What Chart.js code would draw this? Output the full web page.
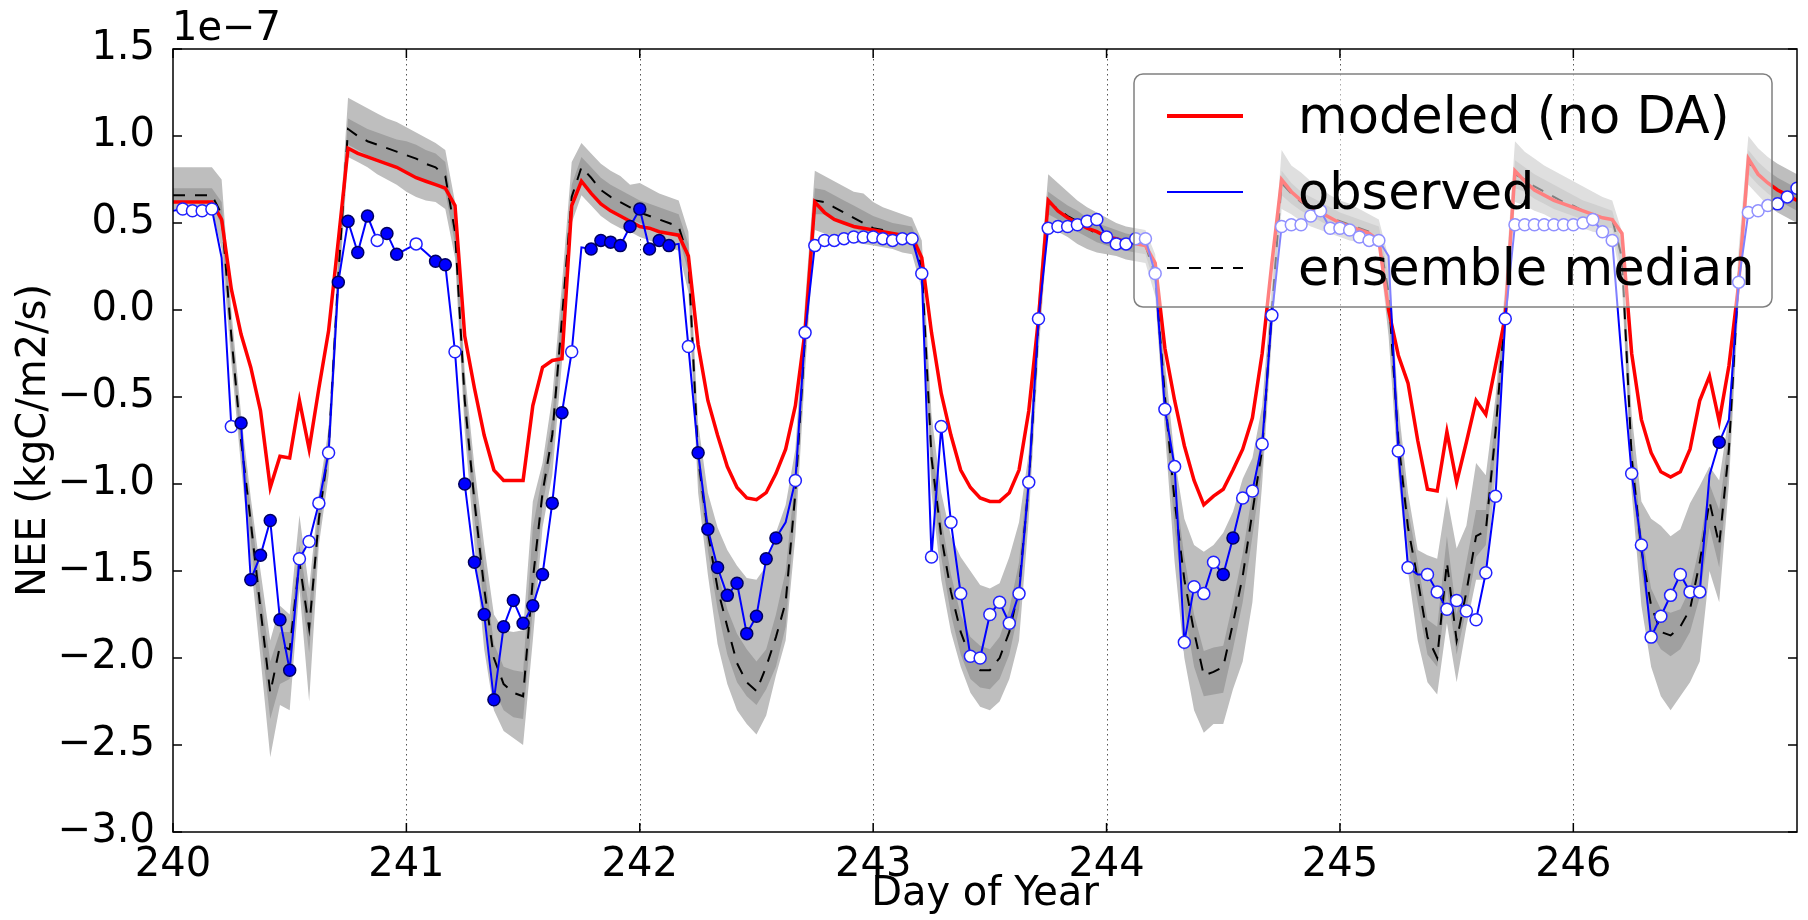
<!DOCTYPE html>
<html>
<head>
<meta charset="utf-8">
<script src="https://cdn.jsdelivr.net/npm/chart.js@4.4.1/dist/chart.umd.min.js"></script>
<style>
  html, body { margin: 0; padding: 0; background: #fff; }
</style>
</head>
<body>
<canvas id="neeChart" width="1808" height="920"></canvas>
<script>
// hourly values, day 240.0 to 246.958, in units of 1e-7 kgC/m2/s
const xTicks = [240, 241, 242, 243, 244, 245, 246];
const yTicks = [-3.0, -2.5, -2.0, -1.5, -1.0, -0.5, 0.0, 0.5, 1.0, 1.5];

const modeled = [
  0.62, 0.62, 0.62, 0.62, 0.62, 0.52, 0.12, -0.14, -0.33, -0.58, -1.02, -0.84, -0.85, -0.52, -0.80, -0.45, -0.12, 0.40, 0.93, 0.90, 0.88, 0.86, 0.84, 0.82,
  0.79, 0.76, 0.74, 0.72, 0.70, 0.60, -0.15, -0.45, -0.72, -0.92, -0.98, -0.98, -0.98, -0.55, -0.33, -0.29, -0.28, 0.60, 0.74, 0.67, 0.61, 0.57, 0.54, 0.51,
  0.48, 0.47, 0.45, 0.44, 0.43, 0.31, -0.20, -0.52, -0.72, -0.90, -1.02, -1.08, -1.09, -1.05, -0.94, -0.80, -0.55, -0.12, 0.62, 0.56, 0.52, 0.50, 0.48, 0.47,
  0.46, 0.45, 0.44, 0.43, 0.42, 0.30, -0.13, -0.48, -0.72, -0.92, -1.02, -1.08, -1.10, -1.10, -1.05, -0.92, -0.58, -0.05, 0.63, 0.57, 0.53, 0.50, 0.47, 0.45,
  0.42, 0.41, 0.39, 0.38, 0.37, 0.27, -0.22, -0.52, -0.78, -0.98, -1.12, -1.07, -1.03, -0.92, -0.80, -0.62, -0.25, 0.27, 0.75, 0.68, 0.63, 0.59, 0.56, 0.53,
  0.50, 0.48, 0.46, 0.44, 0.40, 0.00, -0.26, -0.42, -0.75, -1.03, -1.04, -0.70, -0.99, -0.76, -0.52, -0.60, -0.32, -0.04, 0.80, 0.74, 0.69, 0.66, 0.63, 0.61,
  0.59, 0.57, 0.55, 0.53, 0.52, 0.44, -0.25, -0.63, -0.82, -0.93, -0.96, -0.93, -0.80, -0.52, -0.38, -0.64, -0.32, 0.15, 0.87, 0.78, 0.73, 0.69, 0.66, 0.63
];

const median = [
  0.66, 0.66, 0.66, 0.66, 0.66, 0.55, -0.15, -0.75, -1.22, -1.72, -2.20, -1.93, -1.95, -1.45, -1.83, -1.20, -0.80, 0.20, 1.04, 1.00, 0.97, 0.95, 0.93, 0.91,
  0.89, 0.87, 0.84, 0.82, 0.77, 0.45, -0.52, -1.10, -1.60, -2.00, -2.15, -2.20, -2.22, -1.55, -1.05, -0.72, -0.05, 0.65, 0.82, 0.76, 0.69, 0.65, 0.62, 0.59,
  0.56, 0.54, 0.52, 0.50, 0.48, 0.30, -0.85, -1.28, -1.60, -1.82, -2.03, -2.14, -2.19, -2.05, -1.88, -1.68, -1.05, -0.15, 0.63, 0.62, 0.59, 0.56, 0.53, 0.50,
  0.47, 0.46, 0.44, 0.43, 0.42, 0.25, -0.85, -1.30, -1.62, -1.85, -2.00, -2.07, -2.07, -2.00, -1.85, -1.60, -1.00, -0.08, 0.62, 0.58, 0.54, 0.51, 0.47, 0.44,
  0.42, 0.40, 0.39, 0.38, 0.37, 0.20, -0.50, -1.10, -1.55, -1.85, -2.10, -2.08, -2.05, -1.80, -1.53, -1.16, -0.80, 0.00, 0.73, 0.67, 0.62, 0.59, 0.56, 0.53,
  0.51, 0.49, 0.47, 0.45, 0.43, 0.10, -0.75, -1.25, -1.55, -1.88, -2.00, -1.45, -1.90, -1.62, -1.30, -1.27, -0.70, 0.00, 0.78, 0.75, 0.71, 0.68, 0.65, 0.62,
  0.60, 0.57, 0.55, 0.53, 0.52, 0.30, -0.85, -1.38, -1.70, -1.85, -1.87, -1.82, -1.72, -1.45, -1.10, -1.35, -0.80, 0.20, 0.85, 0.78, 0.73, 0.69, 0.66, 0.63
];

// inner band (darker) and outer band (lighter) of the ensemble
const innerHi = [
  0.70, 0.70, 0.70, 0.70, 0.70, 0.62, -0.08, -0.68, -1.15, -1.62, -2.02, -1.85, -1.85, -1.35, -1.72, -1.12, -0.72, 0.28, 1.10, 1.07, 1.04, 1.02, 1.00, 0.98,
  0.97, 0.95, 0.92, 0.90, 0.85, 0.52, -0.42, -1.00, -1.48, -1.92, -2.05, -2.07, -2.08, -1.25, -0.95, -0.62, 0.05, 0.72, 0.88, 0.82, 0.76, 0.72, 0.69, 0.66,
  0.63, 0.61, 0.59, 0.57, 0.55, 0.38, -0.78, -1.20, -1.50, -1.72, -1.86, -1.95, -2.02, -1.95, -1.75, -1.50, -0.95, -0.05, 0.70, 0.69, 0.66, 0.63, 0.60, 0.57,
  0.54, 0.52, 0.50, 0.49, 0.48, 0.32, -0.75, -1.20, -1.52, -1.75, -1.88, -1.93, -1.95, -1.88, -1.72, -1.45, -0.90, 0.00, 0.68, 0.64, 0.60, 0.57, 0.53, 0.50,
  0.48, 0.46, 0.44, 0.43, 0.42, 0.26, -0.40, -0.98, -1.42, -1.75, -1.96, -1.94, -1.93, -1.68, -1.40, -1.05, -0.70, 0.07, 0.80, 0.73, 0.68, 0.65, 0.62, 0.59,
  0.56, 0.54, 0.52, 0.50, 0.48, 0.20, -0.65, -1.15, -1.45, -1.78, -1.82, -1.30, -1.75, -1.45, -1.15, -1.15, -0.60, 0.08, 0.86, 0.82, 0.78, 0.75, 0.72, 0.69,
  0.66, 0.63, 0.61, 0.59, 0.57, 0.38, -0.75, -1.28, -1.60, -1.72, -1.74, -1.72, -1.60, -1.35, -1.00, -1.15, -0.70, 0.28, 0.92, 0.85, 0.80, 0.76, 0.73, 0.70
];

const innerLo = [
  0.62, 0.62, 0.62, 0.62, 0.62, 0.48, -0.22, -0.82, -1.32, -1.85, -2.35, -2.15, -2.12, -1.52, -1.97, -1.28, -0.85, 0.12, 0.95, 0.92, 0.89, 0.87, 0.85, 0.82,
  0.78, 0.76, 0.74, 0.72, 0.68, 0.38, -0.62, -1.20, -1.72, -2.18, -2.30, -2.34, -2.35, -1.72, -1.12, -0.82, -0.15, 0.58, 0.74, 0.68, 0.62, 0.58, 0.55, 0.52,
  0.50, 0.48, 0.46, 0.44, 0.42, 0.22, -0.95, -1.38, -1.72, -1.98, -2.14, -2.22, -2.27, -2.18, -2.05, -1.82, -1.15, -0.25, 0.55, 0.55, 0.52, 0.50, 0.47, 0.45,
  0.43, 0.42, 0.40, 0.39, 0.38, 0.20, -0.95, -1.42, -1.75, -1.98, -2.12, -2.17, -2.18, -2.12, -1.98, -1.72, -1.10, -0.15, 0.55, 0.52, 0.48, 0.45, 0.42, 0.39,
  0.37, 0.35, 0.34, 0.33, 0.32, 0.14, -0.60, -1.25, -1.72, -2.05, -2.22, -2.21, -2.20, -1.95, -1.68, -1.30, -0.90, -0.07, 0.66, 0.61, 0.57, 0.54, 0.51, 0.48,
  0.46, 0.44, 0.42, 0.40, 0.38, 0.00, -0.85, -1.35, -1.68, -1.98, -2.05, -1.60, -1.98, -1.72, -1.42, -1.35, -0.80, -0.08, 0.70, 0.68, 0.64, 0.61, 0.58, 0.56,
  0.54, 0.52, 0.50, 0.48, 0.47, 0.22, -0.95, -1.50, -1.85, -1.95, -1.99, -1.95, -1.85, -1.65, -1.25, -1.48, -0.90, 0.12, 0.78, 0.72, 0.67, 0.63, 0.60, 0.57
];

const outerHi = [
  0.82, 0.82, 0.82, 0.82, 0.82, 0.75, 0.00, -0.60, -1.08, -1.50, -1.90, -1.70, -1.75, -1.18, -1.60, -1.05, -0.68, 0.35, 1.22, 1.19, 1.16, 1.13, 1.10, 1.08,
  1.05, 1.02, 0.99, 0.96, 0.92, 0.62, -0.35, -0.90, -1.35, -1.75, -1.84, -1.85, -1.84, -1.10, -0.88, -0.50, 0.15, 0.85, 0.96, 0.90, 0.84, 0.80, 0.77, 0.72,
  0.73, 0.70, 0.67, 0.65, 0.63, 0.45, -0.65, -1.05, -1.25, -1.38, -1.47, -1.54, -1.55, -1.47, -1.28, -1.12, -0.80, 0.05, 0.80, 0.77, 0.74, 0.71, 0.68, 0.67,
  0.62, 0.59, 0.57, 0.55, 0.53, 0.40, -0.60, -1.05, -1.30, -1.42, -1.50, -1.58, -1.60, -1.57, -1.42, -1.22, -0.82, 0.08, 0.78, 0.73, 0.68, 0.63, 0.59, 0.56,
  0.53, 0.50, 0.48, 0.47, 0.46, 0.32, -0.30, -0.85, -1.20, -1.35, -1.39, -1.35, -1.28, -1.16, -0.97, -0.85, -0.55, 0.15, 0.92, 0.83, 0.79, 0.74, 0.70, 0.66,
  0.63, 0.61, 0.58, 0.55, 0.52, 0.30, -0.55, -1.05, -1.38, -1.41, -1.43, -1.07, -1.37, -1.24, -0.88, -0.95, -0.50, 0.15, 0.97, 0.91, 0.87, 0.83, 0.80, 0.77,
  0.74, 0.71, 0.68, 0.65, 0.63, 0.45, -0.60, -1.10, -1.20, -1.24, -1.30, -1.26, -1.11, -1.01, -0.90, -0.98, -0.60, 0.35, 1.00, 0.93, 0.88, 0.84, 0.81, 0.78
];

const outerLo = [
  0.58, 0.58, 0.58, 0.58, 0.58, 0.35, -0.30, -0.90, -1.45, -2.00, -2.57, -2.27, -2.30, -1.60, -2.25, -1.35, -0.95, 0.05, 0.88, 0.85, 0.82, 0.78, 0.75, 0.72,
  0.68, 0.65, 0.63, 0.62, 0.58, 0.30, -0.70, -1.35, -1.95, -2.30, -2.42, -2.46, -2.50, -1.90, -1.25, -0.95, -0.30, 0.50, 0.66, 0.60, 0.54, 0.50, 0.47, 0.45,
  0.42, 0.40, 0.38, 0.36, 0.34, 0.10, -1.05, -1.52, -1.92, -2.15, -2.30, -2.38, -2.44, -2.33, -2.10, -1.90, -1.30, -0.35, 0.46, 0.44, 0.42, 0.40, 0.39, 0.38,
  0.37, 0.36, 0.35, 0.33, 0.32, 0.12, -1.05, -1.55, -1.85, -2.05, -2.20, -2.28, -2.30, -2.25, -2.12, -1.90, -1.20, -0.25, 0.48, 0.45, 0.42, 0.38, 0.35, 0.33,
  0.32, 0.31, 0.29, 0.28, 0.27, 0.08, -0.70, -1.45, -2.00, -2.30, -2.43, -2.38, -2.38, -2.18, -2.02, -1.68, -1.00, -0.15, 0.58, 0.55, 0.51, 0.48, 0.46, 0.44,
  0.42, 0.40, 0.39, 0.38, 0.36, -0.15, -0.95, -1.50, -1.90, -2.14, -2.21, -1.80, -2.14, -1.82, -1.55, -1.55, -0.95, -0.15, 0.62, 0.60, 0.57, 0.55, 0.52, 0.50,
  0.48, 0.47, 0.45, 0.44, 0.43, 0.15, -1.05, -1.70, -2.05, -2.22, -2.30, -2.22, -2.14, -2.02, -1.50, -1.68, -1.00, 0.05, 0.72, 0.66, 0.60, 0.56, 0.53, 0.50
];

const observed = [
  0.57, 0.58, 0.57, 0.57, 0.58, 0.30, -0.67, -0.65, -1.55, -1.41, -1.21, -1.78, -2.07, -1.43, -1.33, -1.11, -0.82, 0.16, 0.51, 0.33, 0.54, 0.40, 0.44, 0.32,
  0.35, 0.38, 0.33, 0.28, 0.26, -0.24, -1.00, -1.45, -1.75, -2.24, -1.82, -1.67, -1.80, -1.70, -1.52, -1.11, -0.59, -0.24, 0.36, 0.35, 0.40, 0.39, 0.37, 0.48,
  0.58, 0.35, 0.40, 0.37, 0.38, -0.21, -0.82, -1.26, -1.48, -1.64, -1.57, -1.86, -1.76, -1.43, -1.31, -1.22, -0.98, -0.13, 0.37, 0.40, 0.40, 0.41, 0.42, 0.42,
  0.42, 0.41, 0.40, 0.41, 0.41, 0.21, -1.42, -0.67, -1.22, -1.63, -1.99, -2.00, -1.75, -1.68, -1.80, -1.63, -0.99, -0.05, 0.47, 0.48, 0.48, 0.49, 0.51, 0.52,
  0.42, 0.38, 0.38, 0.41, 0.41, 0.21, -0.57, -0.90, -1.91, -1.59, -1.63, -1.45, -1.52, -1.31, -1.08, -1.04, -0.77, -0.03, 0.48, 0.49, 0.49, 0.54, 0.57, 0.47,
  0.47, 0.46, 0.42, 0.40, 0.40, 0.31, -0.81, -1.48, -1.52, -1.52, -1.62, -1.72, -1.67, -1.73, -1.78, -1.51, -1.07, -0.05, 0.49, 0.49, 0.49, 0.49, 0.49, 0.49,
  0.49, 0.50, 0.52, 0.45, 0.40, -0.30, -0.94, -1.35, -1.88, -1.76, -1.64, -1.52, -1.62, -1.62, -0.95, -0.76, -0.63, 0.16, 0.56, 0.57, 0.60, 0.61, 0.65, 0.70
];

// F = measured (filled marker), O = gap-filled (open marker), N = no marker
const obsFlag = [
  'NOOOONOFFFFFFOOOOFFFFOFF',
  'NONFFOFFFFFFFFFFFONFFFFF',
  'FFFFNOFFFFFFFFFNOOOOOOOO',
  'OOOOOOOOOOOOOOOOOOOOOOOO',
  'OOOOOOOOOOOOFFOOOOOOOOOO',
  'OOOOONOONOOOOOOOOOOOOOOO',
  'OOOOONOOOOOOOONFNOOOOOOO'
].join('').split('');

const dayOfYear = modeled.map((_, i) => 240 + i / 24);
const pts = arr => arr.map((v, i) => ({ x: dayOfYear[i], y: v }));

const FONT = 'DejaVu Sans';
Chart.defaults.font.family = FONT;
Chart.defaults.color = '#000';

const fmt = v => v.toFixed(1).replace('-', '\u2212');

const legendItems = [
  { label: 'modeled (no DA)', color: '#ff0000', width: 4, dash: [] },
  { label: 'observed', color: '#0000ff', width: 2, dash: [] },
  { label: 'ensemble median', color: '#000000', width: 2, dash: [12, 10] }
];

const decorations = {
  id: 'decorations',
  beforeDatasetsDraw(chart) {
    const { ctx, chartArea: a, scales: { x } } = chart;
    ctx.save();
    ctx.strokeStyle = '#555';
    ctx.lineWidth = 1;
    ctx.setLineDash([1.5, 3.5]);
    xTicks.forEach(t => {
      if (t <= x.min) return;
      const px = Math.round(x.getPixelForValue(t)) + 0.5;
      ctx.beginPath();
      ctx.moveTo(px, a.top);
      ctx.lineTo(px, a.bottom);
      ctx.stroke();
    });
    ctx.restore();
  },
  afterDatasetsDraw(chart) {
    const { ctx, chartArea: a, scales: { x, y } } = chart;
    ctx.save();

    // legend box
    const bx = a.right - 25, by = a.top + 25;
    const left = bx - 638, top = by;
    ctx.beginPath();
    ctx.roundRect(left, top, 638, 233, 9);
    ctx.fillStyle = 'rgba(255,255,255,0.5)';
    ctx.fill();
    ctx.lineWidth = 1.5;
    ctx.strokeStyle = '#808080';
    ctx.stroke();
    ctx.font = '51px "' + FONT + '"';
    ctx.textBaseline = 'alphabetic';
    ctx.textAlign = 'left';
    legendItems.forEach((it, i) => {
      const ry = top + 42 + i * 76;
      ctx.beginPath();
      ctx.setLineDash(it.dash);
      ctx.strokeStyle = it.color;
      ctx.lineWidth = it.width;
      ctx.moveTo(left + 33, ry);
      ctx.lineTo(left + 109, ry);
      ctx.stroke();
      ctx.setLineDash([]);
      ctx.fillStyle = '#000';
      ctx.fillText(it.label, left + 164, ry + 17);
    });

    // axes frame and inward ticks
    ctx.strokeStyle = '#000';
    ctx.lineWidth = 1.5;
    ctx.strokeRect(a.left, a.top, a.width, a.height);
    ctx.beginPath();
    yTicks.forEach(t => {
      const py = y.getPixelForValue(t);
      ctx.moveTo(a.left, py); ctx.lineTo(a.left + 9, py);
      ctx.moveTo(a.right, py); ctx.lineTo(a.right - 9, py);
    });
    xTicks.forEach(t => {
      const px = x.getPixelForValue(t);
      ctx.moveTo(px, a.bottom); ctx.lineTo(px, a.bottom - 9);
      ctx.moveTo(px, a.top); ctx.lineTo(px, a.top + 9);
    });
    ctx.stroke();

    // offset text of the y axis
    ctx.fillStyle = '#000';
    ctx.font = '40px "' + FONT + '"';
    ctx.fillText('1e\u22127', a.left - 1, a.top - 9);
    ctx.restore();
  }
};

const ctx = document.getElementById('neeChart').getContext('2d');
new Chart(ctx, {
  type: 'line',
  data: {
    datasets: [
      {
        label: 'observed',
        data: pts(observed),
        borderColor: '#0000ff',
        borderWidth: 2,
        pointRadius: obsFlag.map(f => f === 'N' ? 0 : 6),
        pointBackgroundColor: obsFlag.map(f => f === 'F' ? '#0000ff' : '#ffffff'),
        pointBorderColor: obsFlag.map(f => f === 'F' ? '#000060' : '#2020ff'),
        pointBorderWidth: 1.5,
        fill: false
      },
      {
        label: 'modeled (no DA)',
        data: pts(modeled),
        borderColor: '#ff0000',
        borderWidth: 3.5,
        pointRadius: 0,
        fill: false
      },
      {
        label: 'ensemble median',
        data: pts(median),
        borderColor: '#000000',
        borderWidth: 2,
        borderDash: [12, 10],
        pointRadius: 0,
        fill: false
      },
      {
        label: 'inner hi',
        data: pts(innerHi),
        borderWidth: 0,
        pointRadius: 0,
        backgroundColor: '#a0a0a0',
        fill: '+1'
      },
      {
        label: 'inner lo',
        data: pts(innerLo),
        borderWidth: 0,
        pointRadius: 0,
        fill: false
      },
      {
        label: 'outer hi',
        data: pts(outerHi),
        borderWidth: 0,
        pointRadius: 0,
        backgroundColor: '#bebebe',
        fill: '+1'
      },
      {
        label: 'outer lo',
        data: pts(outerLo),
        borderWidth: 0,
        pointRadius: 0,
        fill: false
      }
    ]
  },
  options: {
    responsive: false,
    animation: false,
    devicePixelRatio: 1,
    layout: { padding: { top: 49, right: 11, bottom: 0, left: 0 } },
    elements: { line: { tension: 0 } },
    plugins: {
      legend: { display: false },
      tooltip: { enabled: false },
      filler: { drawTime: 'beforeDatasetDraw' }
    },
    scales: {
      x: {
        type: 'linear',
        min: 240,
        max: 240 + 167 / 24,
        grid: { display: false },
        border: { display: false },
        ticks: {
          stepSize: 1,
          includeBounds: false,
          autoSkip: false,
          maxRotation: 0,
          padding: 2,
          font: { size: 40 },
          callback: v => String(v)
        },
        title: {
          display: true,
          text: 'Day of Year',
          font: { size: 40 },
          padding: { top: 0, bottom: 1 }
        },
        afterFit: s => { s.height = 88; }
      },
      y: {
        min: -3,
        max: 1.5,
        grid: { display: false },
        border: { display: false },
        ticks: {
          stepSize: 0.5,
          padding: 10,
          font: { size: 40 },
          callback: v => fmt(v)
        },
        title: {
          display: true,
          text: 'NEE (kgC/m2/s)',
          font: { size: 40 },
          padding: { top: 11, bottom: 0 }
        },
        afterFit: s => { s.width = 173; }
      }
    }
  },
  plugins: [decorations]
});
</script>
</body>
</html>
